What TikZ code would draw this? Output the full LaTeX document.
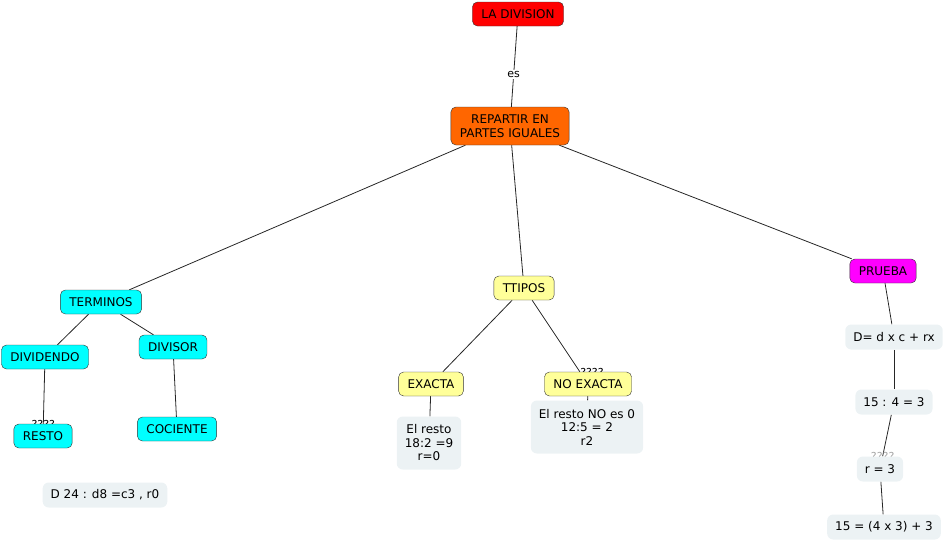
\documentclass[tikz,border=0pt]{standalone}
\usepackage{fontspec}
\setmainfont{DejaVu Sans}
\usetikzlibrary{backgrounds}
\definecolor{mapred}{HTML}{FF0000}
\definecolor{maporange}{HTML}{FF6600}
\definecolor{mapcyan}{HTML}{00FFFF}
\definecolor{mapyellow}{HTML}{FFFF99}
\definecolor{mapmagenta}{HTML}{FF00FF}
\definecolor{notegray}{HTML}{ECF2F4}

\begin{document}
\begin{tikzpicture}[x=1pt,y=-1pt,
    concept/.style={draw=black!80,rounded corners=5pt,minimum height=24pt,
        inner xsep=9pt,inner ysep=2pt,align=center,font=\fontsize{12}{13.5}\selectfont},
    note/.style={fill=notegray,rounded corners=6pt,minimum height=25pt,
        inner xsep=8pt,inner ysep=3pt,align=center,font=\fontsize{12}{13.5}\selectfont},
    link/.style={draw=black!85,line width=0.8pt},
    tag/.style={font=\fontsize{11}{11}\selectfont,inner sep=1pt}]
\useasboundingbox (0,0) rectangle (946,542);
% === TOP: title and definition ===
\node[concept,fill=mapred] (div) at (518,14) {LA DIVISION};
\node[concept,fill=maporange,minimum height=38pt] (rep) at (510,126) {REPARTIR EN\\PARTES IGUALES};
% === LEFT: terms ===
\node[concept,fill=mapcyan] (term) at (101,302) {TERMINOS};
\node[concept,fill=mapcyan] (dvd) at (45,357) {DIVIDENDO};
\node[concept,fill=mapcyan] (dvs) at (173,347) {DIVISOR};
\node[concept,fill=mapcyan] (resto) at (43,436) {RESTO};
\node[concept,fill=mapcyan] (coc) at (177,429) {COCIENTE};
\node[note] (ej) at (105,495) {D 24 : d8 =c3 , r0};
% === MIDDLE: types ===
\node[concept,fill=mapyellow] (tipos) at (524,288) {TTIPOS};
\node[concept,fill=mapyellow] (exa) at (431,384) {EXACTA};
\node[concept,fill=mapyellow] (noexa) at (588,384) {NO EXACTA};
\node[note,minimum height=53pt] (exnote) at (429,443) {El resto\\18:2 =9\\r=0};
\node[note,minimum height=53pt] (noexnote) at (587,427) {El resto NO es 0\\12:5 = 2\\r2};
% === RIGHT: proof ===
\node[concept,fill=mapmagenta] (prueba) at (883,271) {PRUEBA};
\node[note] (form) at (894,337) {D= d x c + rx};
\node[note] (cuenta) at (894,402) {15 : 4 = 3};
\node[note] (rtres) at (880,469) {r = 3};
\node[note] (check) at (884,527) {15 = (4 x 3) + 3};
% === CONNECTORS ===
\begin{scope}[on background layer]
    \draw[link] (div) -- node[tag,fill=white,pos=0.6] {es} (rep);
    \draw[link] (rep) -- (term);
    \draw[link] (rep) -- (tipos);
    \draw[link] (rep) -- (prueba);
    \draw[link] (term) -- (dvd);
    \draw[link] (term) -- (dvs);
    \draw[link] (dvd) -- node[tag,pos=1,anchor=south,yshift=-6pt] {????} (resto);
    \draw[link] (dvs) -- (coc);
    \draw[link] (tipos) -- (exa);
    \draw[link] (tipos) -- node[tag,pos=1,anchor=south west,xshift=-1pt,yshift=-6pt] {????} (noexa);
    \draw[link] (exa) -- (exnote);
    \draw[link] (noexa) -- (noexnote);
    \draw[link] (prueba) -- (form);
    \draw[link] (form) -- (cuenta);
    \draw[link] (cuenta) -- node[tag,pos=1,anchor=south,yshift=-6pt,text=black!35] {????} (rtres);
    \draw[link] (rtres) -- (check);
\end{scope}
\end{tikzpicture}
\end{document}
